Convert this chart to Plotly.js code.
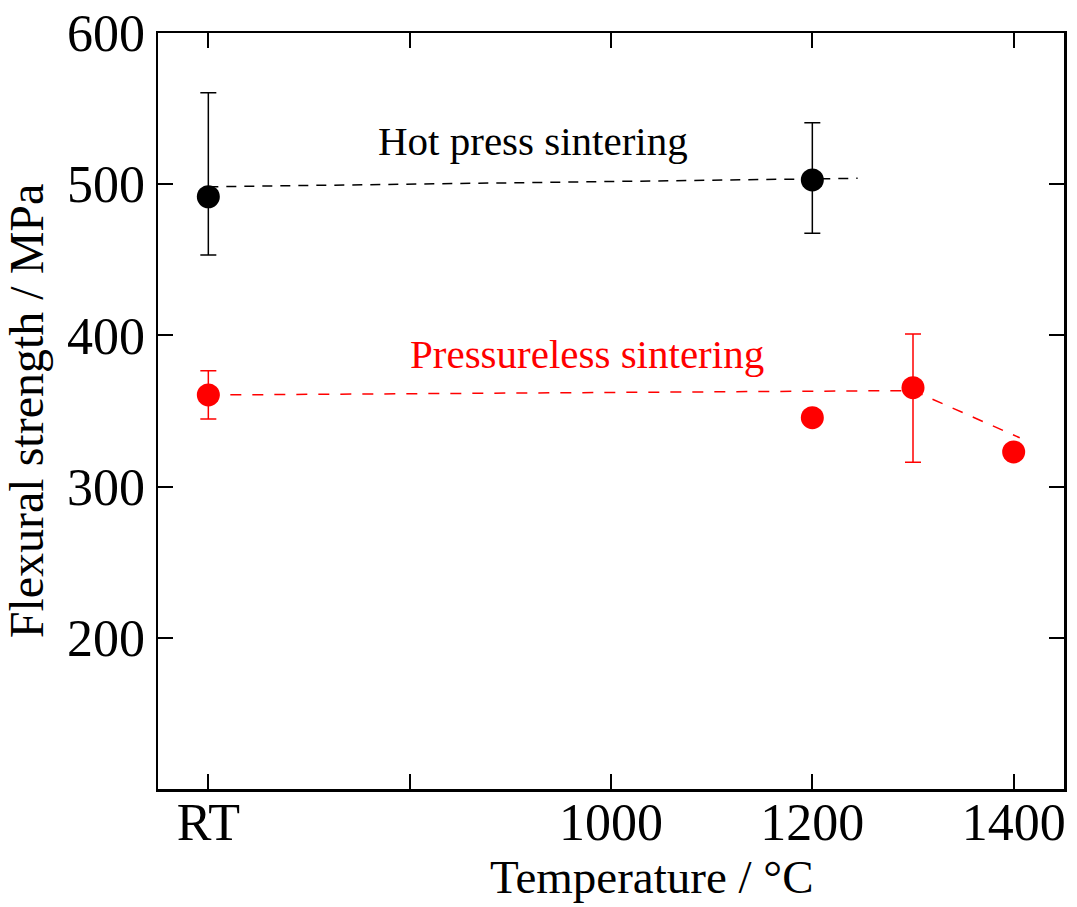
<!DOCTYPE html>
<html>
<head>
<meta charset="utf-8">
<script src="https://cdn.plot.ly/plotly-3.0.1.min.js"></script>
<style>html,body{margin:0;padding:0;background:#fff;}</style>
</head>
<body>
<div id="chart" style="width:1077px;height:907px;"></div>
<script>
// ---- data ----
const hotTemp = [600, 1200];           // 600 = "RT" position on axis
const hotStrength = [491.7, 502.8];
const hotErrPlus = [68.8, 37.9];
const hotErrMinus = [38.5, 35.3];

const pressTemp = [600, 1200, 1300, 1400];
const pressStrength = [360.6, 345.6, 365.4, 322.9];
const pressErrPlus = [16.1, NaN, 35.5, NaN];
const pressErrMinus = [15.9, NaN, 49.3, NaN];

const hotTrendX = [600, 1245];
const hotTrendY = [498.3, 503.9];
const pressTrendX = [600, 1300, 1406];
const pressTrendY = [360.6, 363.5, 332.3];

const xTickVals = [600, 800, 1000, 1200, 1400];
const xTickText = ['RT', '', '1000', '1200', '1400'];
const yTickVals = [200, 300, 400, 500, 600];
const yTickText = ['200', '300', '400', '500', '600'];

const FONT = 'Liberation Serif, Times New Roman, serif';
const RED = '#ff0000';

const traces = [
  {x: hotTrendX, y: hotTrendY, mode: 'lines', type: 'scatter',
   line: {color: '#000', width: 1.5, dash: '10px,8px'}, hoverinfo: 'skip'},
  {x: pressTrendX, y: pressTrendY, mode: 'lines', type: 'scatter',
   line: {color: RED, width: 1.5, dash: '11px,11px'}, hoverinfo: 'skip'},
  {x: hotTemp, y: hotStrength, mode: 'markers', type: 'scatter',
   marker: {color: '#000', size: 23},
   error_y: {type: 'data', symmetric: false, array: hotErrPlus, arrayminus: hotErrMinus,
             color: '#000', thickness: 1.5, width: 8}},
  {x: pressTemp, y: pressStrength, mode: 'markers', type: 'scatter',
   marker: {color: RED, size: 23},
   error_y: {type: 'data', symmetric: false, array: pressErrPlus, arrayminus: pressErrMinus,
             color: RED, thickness: 1.5, width: 8}}
];

const axisCommon = {
  showline: true, linecolor: '#000', linewidth: 2.5, mirror: 'ticks',
  ticks: 'inside', ticklen: 15, tickwidth: 2, tickcolor: '#000',
  showgrid: false, zeroline: false, fixedrange: true,
  tickfont: {family: FONT, size: 52, color: '#000'}
};

const layout = {
  width: 1077, height: 907,
  margin: {l: 158, r: 13, t: 33, b: 118},
  paper_bgcolor: '#fff', plot_bgcolor: '#fff',
  showlegend: false,
  font: {family: FONT, color: '#000'},
  xaxis: Object.assign({}, axisCommon, {
    range: [550, 1450], tickmode: 'array', tickvals: xTickVals, ticktext: xTickText,
    ticklabelstandoff: -14
  }),
  yaxis: Object.assign({}, axisCommon, {
    range: [100, 600], tickmode: 'array', tickvals: yTickVals, ticktext: yTickText,
    ticklabelstandoff: 0,
    title: {text: 'Flexural strength / MPa', font: {family: FONT, size: 48, color: '#000'}, standoff: 12}
  }),
  annotations: [
    {x: 922.6, y: 528.5, xref: 'x', yref: 'y', text: 'Hot press sintering', showarrow: false,
     font: {family: FONT, size: 41, color: '#000'}, xanchor: 'center', yanchor: 'middle'},
    {x: 976, y: 388, xref: 'x', yref: 'y', text: 'Pressureless sintering', showarrow: false,
     font: {family: FONT, size: 41, color: RED}, xanchor: 'center', yanchor: 'middle'},
    {x: 1041, y: -0.117, xref: 'x', yref: 'paper', text: 'Temperature / °C', showarrow: false,
     font: {family: FONT, size: 47, color: '#000'}, xanchor: 'center', yanchor: 'middle'}
  ]
};

Plotly.newPlot('chart', traces, layout, {staticPlot: true, displayModeBar: false});
</script>
</body>
</html>
